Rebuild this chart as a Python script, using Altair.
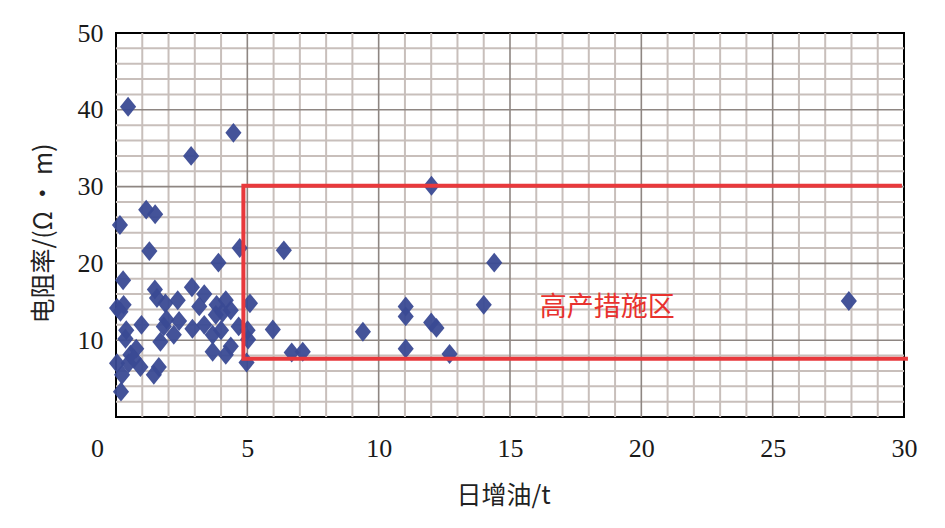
import altair as alt
import pandas as pd

# scatter data: daily oil increase (t) vs resistivity (ohm·m)
oil = [0.46, 2.86, 4.47, 0.15, 1.15, 1.49, 1.27, 4.71, 3.90, 0.27,
       2.89, 1.48, 1.56, 1.88, 2.35, 3.36, 3.17, 3.83, 4.18, 4.37,
       3.80, 4.06, 5.10, 0.04, 0.29, 0.17, 0.97, 1.92, 2.40, 1.82,
       2.20, 1.69, 0.39, 0.36, 0.77, 0.55, 0.04, 0.48, 0.93, 0.23,
       1.63, 1.44, 0.19, 2.91, 3.36, 3.68, 4.00, 4.67, 5.01, 5.03,
       3.68, 4.18, 4.37, 4.97, 6.39, 5.97, 6.69, 7.11, 9.40, 11.03,
       11.03, 11.03, 12.01, 12.00, 12.20, 12.70, 14.00, 14.40, 27.90, 0.68]
res = [40.4, 34.0, 37.0, 25.0, 27.0, 26.4, 21.6, 22.0, 20.1, 17.8,
       16.9, 16.6, 15.5, 14.8, 15.2, 16.0, 14.4, 14.6, 15.2, 13.9,
       13.3, 13.6, 14.8, 14.2, 14.6, 13.7, 12.0, 12.7, 12.5, 11.8,
       10.7, 9.8, 11.3, 10.2, 8.9, 8.1, 7.0, 7.0, 6.5, 5.5,
       6.5, 5.5, 3.3, 11.5, 12.0, 10.7, 11.3, 11.8, 11.3, 10.1,
       8.5, 8.1, 9.2, 7.1, 21.7, 11.4, 8.4, 8.5, 11.1, 8.9,
       13.1, 14.4, 30.1, 12.3, 11.6, 8.2, 14.6, 20.1, 15.1, 7.6]

# high-production zone outline
zone_x = [29.92, 4.85, 4.85, 30.15]
zone_y = [30.1, 30.1, 7.6, 7.6]
zone_order = [0, 1, 2, 3]

zone_label = ["高产措施区"]
zone_label_x = [18.7]
zone_label_y = [14.2]

x_ticks = [0, 5, 10, 15, 20, 25, 30]
y_ticks = [10, 20, 30, 40, 50]
x_minor = [v for v in range(0, 31) if v % 5 != 0]
x_major = [5, 10, 15, 20, 25]
y_minor = [v for v in range(2, 50, 2) if v % 10 != 0]
y_major = [10, 20, 30, 40]

pts = pd.DataFrame({"oil": oil, "res": res})
zone = pd.DataFrame({"x": zone_x, "y": zone_y, "o": zone_order})
lab = pd.DataFrame({"t": zone_label, "x": zone_label_x, "y": zone_label_y})

minor_c = "#c8bfbb"
major_c = "#8e8682"

xscale = alt.Scale(domain=[0, 30], nice=False, zero=False)
yscale = alt.Scale(domain=[0, 50], nice=False, zero=False)

xaxis = alt.Axis(
    values=x_ticks, ticks=False, domain=False, grid=False,
    labelFlush=False, labelOverlap=False,
    labelOffset={"condition": {"test": "datum.value === 0", "value": -19}, "value": 0},
    labelFont="Liberation Serif", labelFontSize=26, labelColor="#1a1a1a",
    labelPadding=18,
    title="日增油/t", titleFont="Noto Sans CJK SC", titleFontSize=25,
    titleFontWeight="normal", titleColor="#222222",
    titleX=387, titleY=78, titleBaseline="middle", titleAlign="center",
)
yaxis = alt.Axis(
    values=y_ticks, ticks=False, domain=False, grid=False,
    labelOverlap=False,
    labelFont="Liberation Serif", labelFontSize=26, labelColor="#1a1a1a",
    labelPadding=13,
    title="电阻率/(Ω • m)", titleFont="Noto Sans CJK SC", titleFontSize=25,
    titleFontWeight="normal", titleColor="#222222",
    titleX=-73, titleY=200, titleAngle=-90, titleBaseline="middle", titleAlign="center",
)

vminor = alt.Chart(pd.DataFrame({"v": x_minor})).mark_rule(color=minor_c, strokeWidth=2).encode(
    x=alt.X("v:Q", scale=xscale, axis=xaxis))
hminor = alt.Chart(pd.DataFrame({"v": y_minor})).mark_rule(color=minor_c, strokeWidth=2).encode(
    y=alt.Y("v:Q", scale=yscale, axis=yaxis))
vmajor = alt.Chart(pd.DataFrame({"v": x_major})).mark_rule(color=major_c, strokeWidth=1.6).encode(
    x=alt.X("v:Q", scale=xscale))
hmajor = alt.Chart(pd.DataFrame({"v": y_major})).mark_rule(color=major_c, strokeWidth=1.6).encode(
    y=alt.Y("v:Q", scale=yscale))

points = alt.Chart(pts).mark_point(
    shape="M-0.85,0L0,-1.05L0.85,0L0,1.05Z", filled=True, size=360,
    color="#3a4a94", opacity=0.95,
).encode(
    x=alt.X("oil:Q", scale=xscale),
    y=alt.Y("res:Q", scale=yscale),
)

box = alt.Chart(zone).mark_line(color="#e8393c", strokeWidth=4, clip=False).encode(
    x=alt.X("x:Q", scale=xscale),
    y=alt.Y("y:Q", scale=yscale),
    order="o:Q",
)

text = alt.Chart(lab).mark_text(
    font="Noto Sans CJK SC", fontSize=27, color="#e8322e", fontWeight="normal",
    align="center", baseline="middle",
).encode(
    x=alt.X("x:Q", scale=xscale),
    y=alt.Y("y:Q", scale=yscale),
    text="t:N",
)

chart = alt.layer(vminor, hminor, vmajor, hmajor, points, box, text).properties(
    width=788, height=384,
    autosize=alt.AutoSizeParams(type="none"),
    padding={"left": 108, "top": 25, "right": 33, "bottom": 103},
    background="white",
).configure_view(stroke="black", strokeWidth=2)

chart.save("out.html", embed_options={"renderer": "svg", "actions": False})
